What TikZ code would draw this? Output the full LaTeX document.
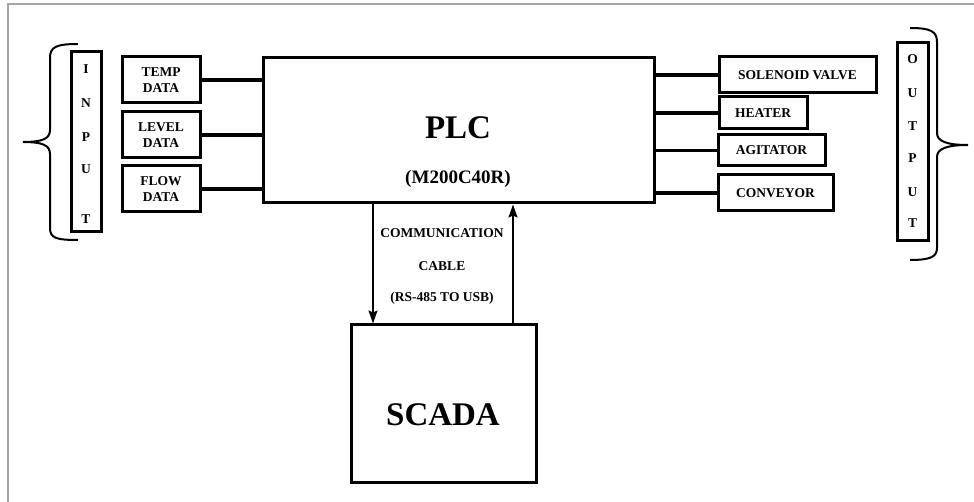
\documentclass[tikz,border=0pt]{standalone}
\usepackage{fontspec}
\setmainfont{Liberation Serif}
\usetikzlibrary{arrows.meta}

\begin{document}
\begin{tikzpicture}[x=1pt,y=-1pt,
        blk/.style={draw,line width=3pt,inner sep=0pt,align=center,
            font=\bfseries\fontsize{13.5}{16.5}\selectfont},
        lbl/.style={inner sep=0pt,font=\bfseries\fontsize{13.5}{16.5}\selectfont},
        wire/.style={line width=3.2pt},
        link/.style={line width=1.5pt,-{Stealth[length=13pt,width=9pt,inset=2pt]}},
        brace/.style={line width=2pt}]
    \useasboundingbox (0,0) rectangle (974,502);
    \draw[gray!70,line width=1.5pt] (8,502) -- (8,4) -- (974,4);
    % input side
    \node[blk,minimum width=30pt,minimum height=180pt] (inbox) at (86,142) {};
    \foreach \l/\y [count=\i] in {I/69,N/103,P/137,U/169,T/219}
        \node[lbl] (in\i) at (86,\y) {\l};
    \draw[brace] (78,44) .. controls (56,44) and (50,47) .. (50,58) -- (50,130)
        .. controls (50,139) and (42,142) .. (23,142)
        .. controls (42,142) and (50,145) .. (50,154) -- (50,228)
        .. controls (50,238) and (56,240) .. (78,240);
    \node[blk,minimum width=78pt,minimum height=46pt] (temp) at (161,80) {TEMP\\DATA};
    \node[blk,minimum width=78pt,minimum height=46pt] (level) at (161,135) {LEVEL\\DATA};
    \node[blk,minimum width=78pt,minimum height=46pt] (flow) at (161,189) {FLOW\\DATA};
    % plc
    \node[blk,minimum width=391pt,minimum height=145pt] (plc) at (458.5,130.5) {};
    \node[inner sep=0pt,font=\bfseries\fontsize{33}{36}\selectfont] (plcname) at (458,128) {PLC};
    \node[inner sep=0pt,font=\bfseries\fontsize{19}{22}\selectfont] (plcmodel) at (458,179) {(M200C40R)};
    \draw[wire] (temp.east) -- (temp.east -| plc.west);
    \draw[wire] (level.east) -- (level.east -| plc.west);
    \draw[wire] (flow.east) -- (flow.east -| plc.west);
    % output side
    \node[blk,minimum width=157pt,minimum height=36pt] (valve) at (797.5,75) {SOLENOID VALVE};
    \node[blk,minimum width=88pt,minimum height=32pt] (heater) at (763,113) {HEATER};
    \node[blk,minimum width=107pt,minimum height=31pt] (agitator) at (771.5,150.5) {AGITATOR};
    \node[blk,minimum width=115pt,minimum height=36pt] (conveyor) at (775.5,193) {CONVEYOR};
    \draw[wire] (plc.east |- valve.west) -- (valve.west);
    \draw[wire] (plc.east |- heater.west) -- (heater.west);
    \draw[wire] (plc.east |- agitator.west) -- (agitator.west);
    \draw[wire] (plc.east |- conveyor.west) -- (conveyor.west);
    \node[blk,minimum width=31pt,minimum height=198pt] (outbox) at (912.5,142) {};
    \foreach \l/\y [count=\i] in {O/59,U/93,T/126,P/158,U/192,T/223}
        \node[lbl] (out\i) at (912.5,\y) {\l};
    \draw[brace] (910,28) .. controls (930,28) and (937,31) .. (937,42) -- (937,133)
        .. controls (937,141) and (946,145) .. (968,145)
        .. controls (946,145) and (937,149) .. (937,157) -- (937,248)
        .. controls (937,257) and (930,260) .. (910,260);
    % scada link
    \node[blk,minimum width=185pt,minimum height=157pt] (scada) at (443.5,403.5) {};
    \node[inner sep=0pt,font=\bfseries\fontsize{33}{36}\selectfont] (scadaname) at (443,415) {SCADA};
    \coordinate (dn) at (373,0);
    \coordinate (up) at (513,0);
    \draw[link] (plc.south -| dn) -- (scada.north -| dn);
    \draw[link] (scada.north -| up) -- (plc.south -| up);
    \node[lbl] (cable1) at (442,233) {COMMUNICATION};
    \node[lbl] (cable2) at (442,266) {CABLE};
    \node[lbl] (cable3) at (442,298) {(RS-485 TO USB)};
\end{tikzpicture}
\end{document}
